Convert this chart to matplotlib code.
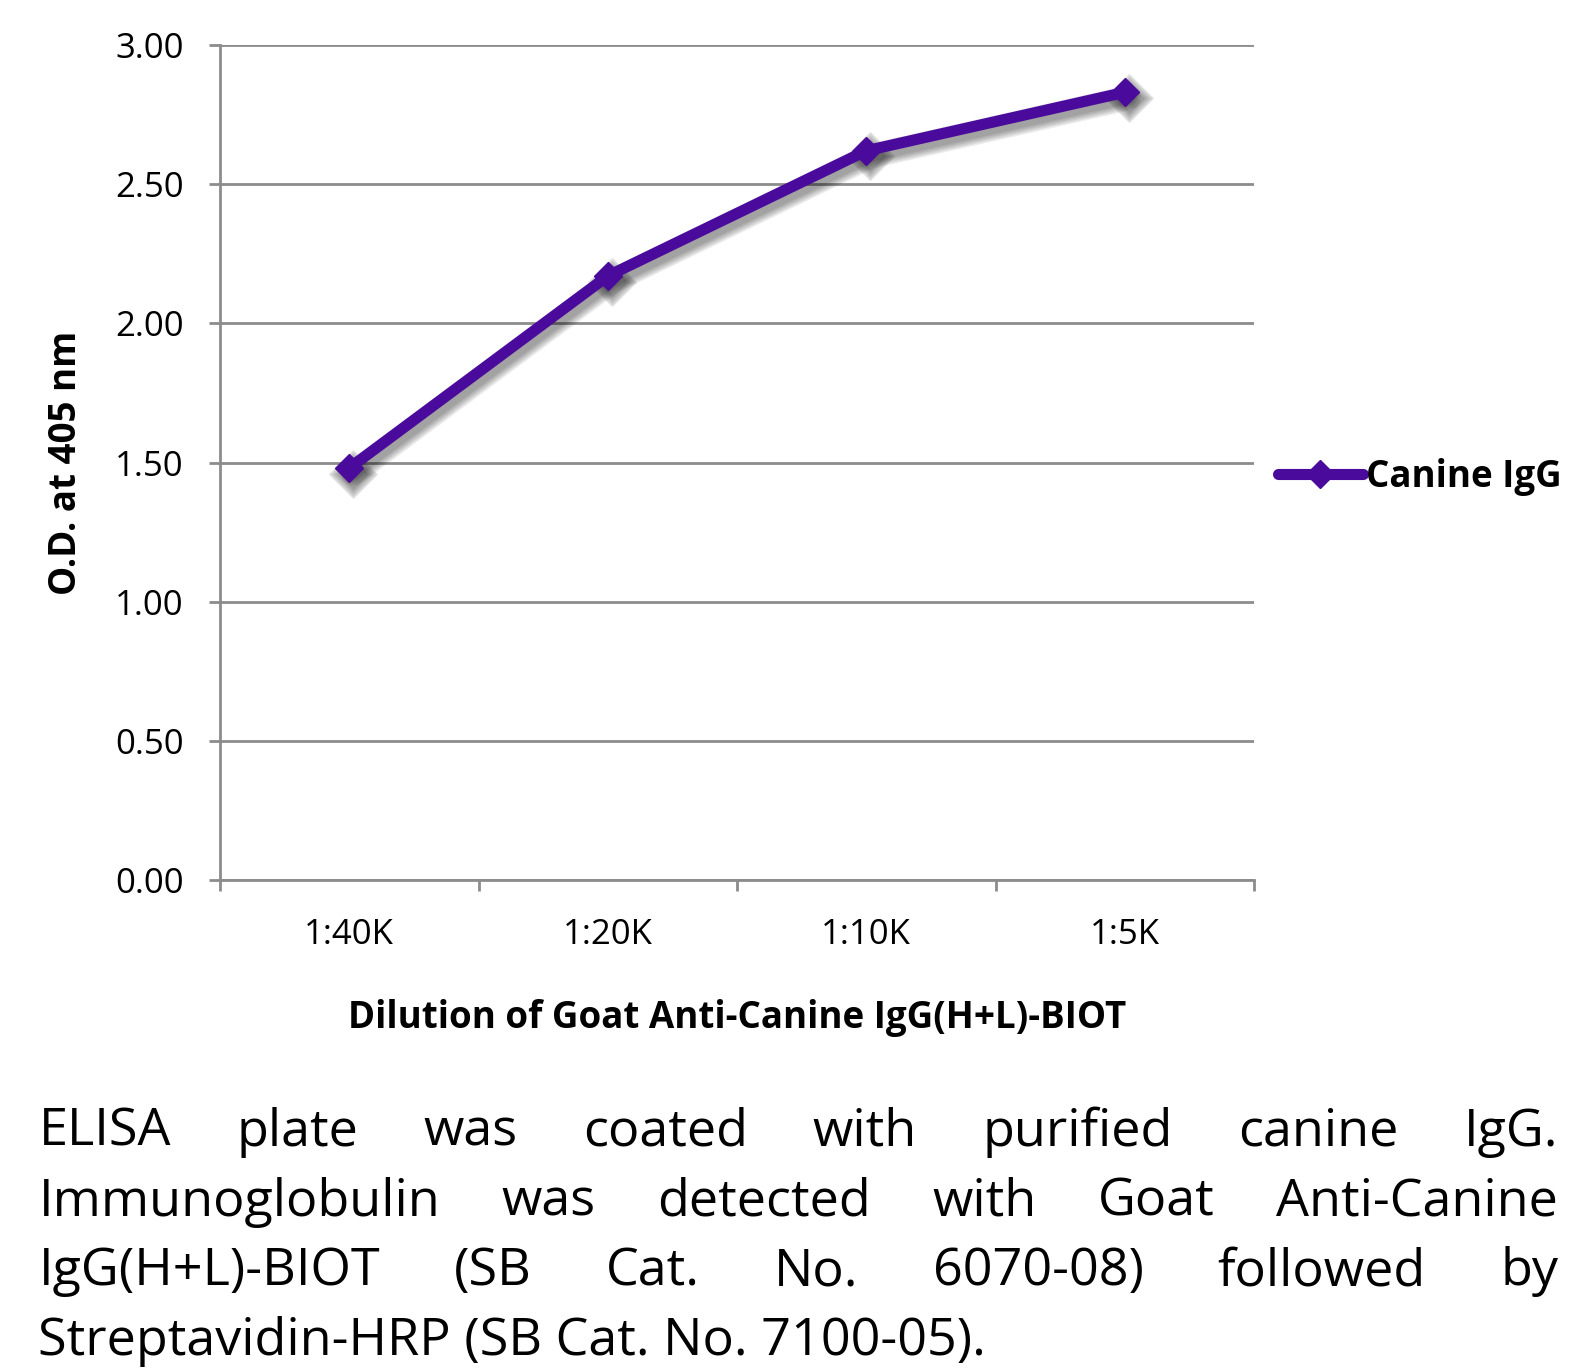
import matplotlib
matplotlib.use("Agg")
import matplotlib.pyplot as plt
import matplotlib.transforms as mtrans

categories = ["1:40K", "1:20K", "1:10K", "1:5K"]
od_values = [1.48, 2.17, 2.62, 2.83]
series_name = "Canine IgG"
y_ticks = [0.0, 0.5, 1.0, 1.5, 2.0, 2.5, 3.0]
caption_lines = [
    "ELISA plate was coated with purified canine IgG.",
    "Immunoglobulin was detected with Goat Anti-Canine",
    "IgG(H+L)-BIOT (SB Cat. No. 6070-08) followed by",
    "Streptavidin-HRP (SB Cat. No. 7100-05).",
]

W, H = 1590, 1369
plt.rcParams['font.family'] = ['Open Sans', 'DejaVu Sans']
fig = plt.figure(figsize=(W / 100, H / 100), dpi=100)
fig.patch.set_facecolor('white')

L, R, T, B = 220, 1254, 45, 880
ax = fig.add_axes([L / W, 1 - B / H, (R - L) / W, (B - T) / H])

purple = '#4a0b9c'
grid_c = '#8c8c8c'
xs = [i + 0.5 for i in range(len(categories))]

# soft shadow
for k in range(6):
    tr = mtrans.offset_copy(ax.transData, fig=fig, x=3, y=-4, units='points')
    ax.plot(xs, od_values, color='black', alpha=0.07, lw=8 + 2.0 * k, marker='D',
            ms=14.5 + 2.0 * k, solid_capstyle='round', solid_joinstyle='round',
            transform=tr, zorder=4)

line, = ax.plot(xs, od_values, color=purple, lw=8, marker='D', ms=14.5,
                solid_capstyle='round', label=series_name, zorder=5)

ax.set_xlim(0, len(categories))
ax.set_ylim(0, 3.0)
ax.set_yticks(y_ticks)
ax.set_yticklabels([f"{v:.2f}" for v in y_ticks])
ax.set_xticks(range(len(categories) + 1))
ax.set_xticklabels([])
ax.set_xticks(xs, minor=True)
ax.set_xticklabels(categories, minor=True)
ax.tick_params(axis='x', which='minor', length=0, pad=27, labelsize=25)
ax.tick_params(axis='x', which='major', length=8, width=2, color=grid_c)
ax.tick_params(axis='y', length=8, width=2, color=grid_c, pad=18, labelsize=25)
for lab in ax.get_xticklabels(minor=True) + ax.get_yticklabels():
    lab.set_color('black')

ax.grid(axis='y', color=grid_c, lw=2)
ax.set_axisbelow(True)
for s in ['top', 'right']:
    ax.spines[s].set_visible(False)
for s in ['left', 'bottom']:
    ax.spines[s].set_color(grid_c)
    ax.spines[s].set_linewidth(2)

ax.set_ylabel("O.D. at 405 nm", fontsize=26.5, fontweight='bold', labelpad=22)
ax.set_xlabel("Dilution of Goat Anti-Canine IgG(H+L)-BIOT", fontsize=26.5, fontweight='bold', labelpad=34)

leg = fig.legend(handles=[line], loc='center left', bbox_to_anchor=(1278 / W, 1 - 477 / H),
                 frameon=False, handlelength=2.3, handletextpad=0.1, borderpad=0, borderaxespad=0,
                 prop={'size': 26.5, 'weight': 'bold'})

# justified caption
renderer = fig.canvas.get_renderer()
left_px, right_px = 38.5, 1558
base0, step = 1146, 69.7
fs = 37.5
for i, ln in enumerate(caption_lines):
    yb = 1 - (base0 + i * step) / H
    if i == len(caption_lines) - 1:
        fig.text(left_px / W, yb, ln, fontsize=fs, va='baseline', ha='left')
        continue
    words = ln.split()
    texts = [fig.text(0, yb, w, fontsize=fs, va='baseline', ha='left') for w in words]
    widths = [t.get_window_extent(renderer).width for t in texts]
    gap = (right_px - left_px - sum(widths)) / (len(words) - 1)
    x = left_px
    for t, w in zip(texts, widths):
        t.set_x(x / W)
        x += w + gap

fig.savefig("out.png", dpi=100, facecolor='white')
